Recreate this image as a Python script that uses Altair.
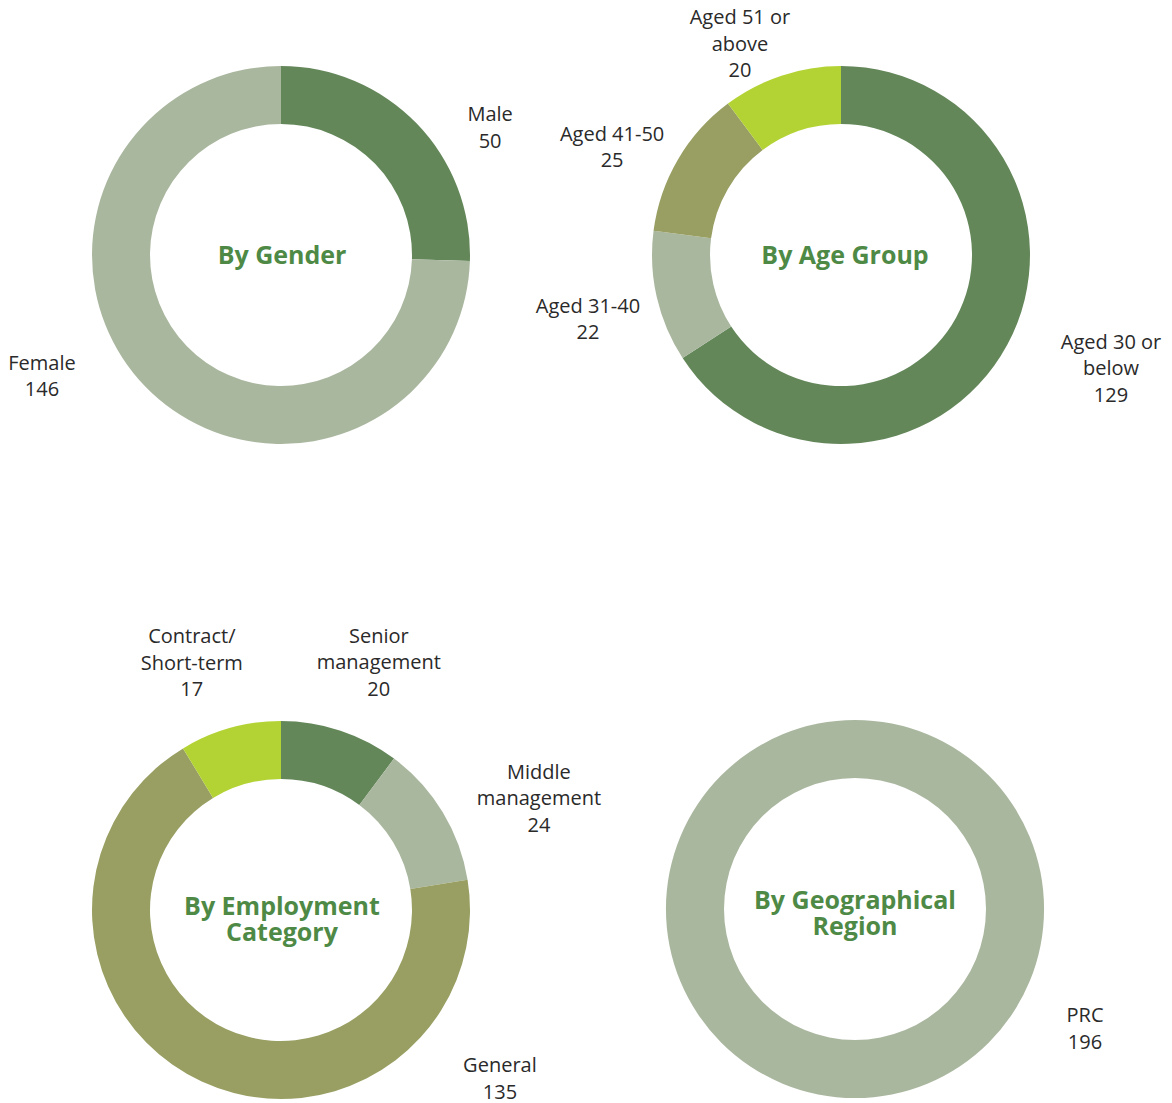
import math
import altair as alt
import pandas as pd

# ---------------- data ----------------
gender_cats = ["Male", "Female"]
gender_vals = [50, 146]

age_cats = ["Aged 30 or below", "Aged 31-40", "Aged 41-50", "Aged 51 or above"]
age_vals = [129, 22, 25, 20]

emp_cats = ["Senior management", "Middle management", "General", "Contract/ Short-term"]
emp_vals = [20, 24, 135, 17]

region_cats = ["PRC"]
region_vals = [196]

titles = ["By Gender", "By Age Group", "By Employment\nCategory", "By Geographical\nRegion"]

# label text as wrapped in the original
wrapped = {
    "Male": "Male",
    "Female": "Female",
    "Aged 30 or below": "Aged 30 or\nbelow",
    "Aged 31-40": "Aged 31-40",
    "Aged 41-50": "Aged 41-50",
    "Aged 51 or above": "Aged 51 or\nabove",
    "Senior management": "Senior\nmanagement",
    "Middle management": "Middle\nmanagement",
    "General": "General",
    "Contract/ Short-term": "Contract/\nShort-term",
    "PRC": "PRC",
}

# ---------------- styles / layout ----------------
DARK, LIGHT, OLIVE, LIME = "#64875a", "#aab79f", "#999f62", "#b3d334"
slice_colors = {
    "Male": DARK, "Female": LIGHT,
    "Aged 30 or below": DARK, "Aged 31-40": LIGHT, "Aged 41-50": OLIVE, "Aged 51 or above": LIME,
    "Senior management": DARK, "Middle management": LIGHT, "General": OLIVE, "Contract/ Short-term": LIME,
    "PRC": LIGHT,
}
TITLE_COLOR = "#4e8a46"
TEXT_COLOR = "#2a2a2a"
FONT = "Open Sans"

W, H = 1172, 1103
CENTERS = [(281, 255), (841, 255), (281, 910), (855, 909)]
R_OUT, R_IN = 189, 131
# label anchors (first text line): angle (deg, clockwise from 12 o'clock), distance from donut centre
LABEL_ANCHORS = [
    [(56.2, 251.6), (245.5, 262.7)],
    [(108.05, 284.0), (258.4, 258.3), (297.7, 258.5), (336.9, 257.6)],
    [(19.7, 290.1), (62.0, 292.1), (125.5, 268.9), (341.9, 287.1)],
    [(114.95, 253.7)],
]
TITLE_DX = [1, 4, 1, 0]
TITLE_DY = [1, 1, -3, -8]

groups = [
    (gender_cats, gender_vals),
    (age_cats, age_vals),
    (emp_cats, emp_vals),
    (region_cats, region_vals),
]

color_scale = alt.Scale(domain=list(slice_colors.keys()), range=list(slice_colors.values()))

layers = []
for gi, (cats, vals) in enumerate(groups):
    cx, cy = CENTERS[gi]
    df = pd.DataFrame({
        "cat": cats,
        "value": vals,
        "idx": list(range(len(cats))),
        "label": [wrapped[c] + "\n" + str(v) for c, v in zip(cats, vals)],
        "ang": [a for a, d in LABEL_ANCHORS[gi]],
        "dist": [d for a, d in LABEL_ANCHORS[gi]],
    })
    arcs = alt.Chart(df).mark_arc(outerRadius=R_OUT, innerRadius=R_IN).encode(
        theta=alt.Theta("value:Q", stack=True),
        color=alt.Color("cat:N", scale=color_scale, legend=None),
        order=alt.Order("idx:Q"),
        x=alt.value(cx),
        y=alt.value(cy),
    )
    labels = alt.Chart(df).mark_text(
        font=FONT, fontSize=20, color=TEXT_COLOR, lineBreak="\n", lineHeight=26.5,
        align="center", baseline="middle",
    ).encode(
        theta=alt.Theta("ang:Q", stack=False, scale=alt.Scale(domain=[0, 360], range=[0, 2 * math.pi])),
        radius=alt.Radius("dist:Q", scale=None),
        text="label:N",
        x=alt.value(cx),
        y=alt.value(cy),
    )
    tdf = pd.DataFrame({"title": [titles[gi]]})
    title = alt.Chart(tdf).mark_text(
        font=FONT, fontSize=25, fontWeight="bold", color=TITLE_COLOR, lineBreak="\n",
        lineHeight=26, align="center", baseline="middle",
    ).encode(
        text="title:N",
        x=alt.value(cx + TITLE_DX[gi]),
        y=alt.value(cy + TITLE_DY[gi]),
    )
    layers += [arcs, labels, title]

chart = alt.layer(*layers).resolve_scale(theta="independent").properties(
    width=W, height=H, padding=0, autosize=alt.AutoSizeParams(type="none"),
    background="#ffffff",
).configure_view(stroke=None)

chart.save("out.html", embed_options={"renderer": "svg", "actions": False})
